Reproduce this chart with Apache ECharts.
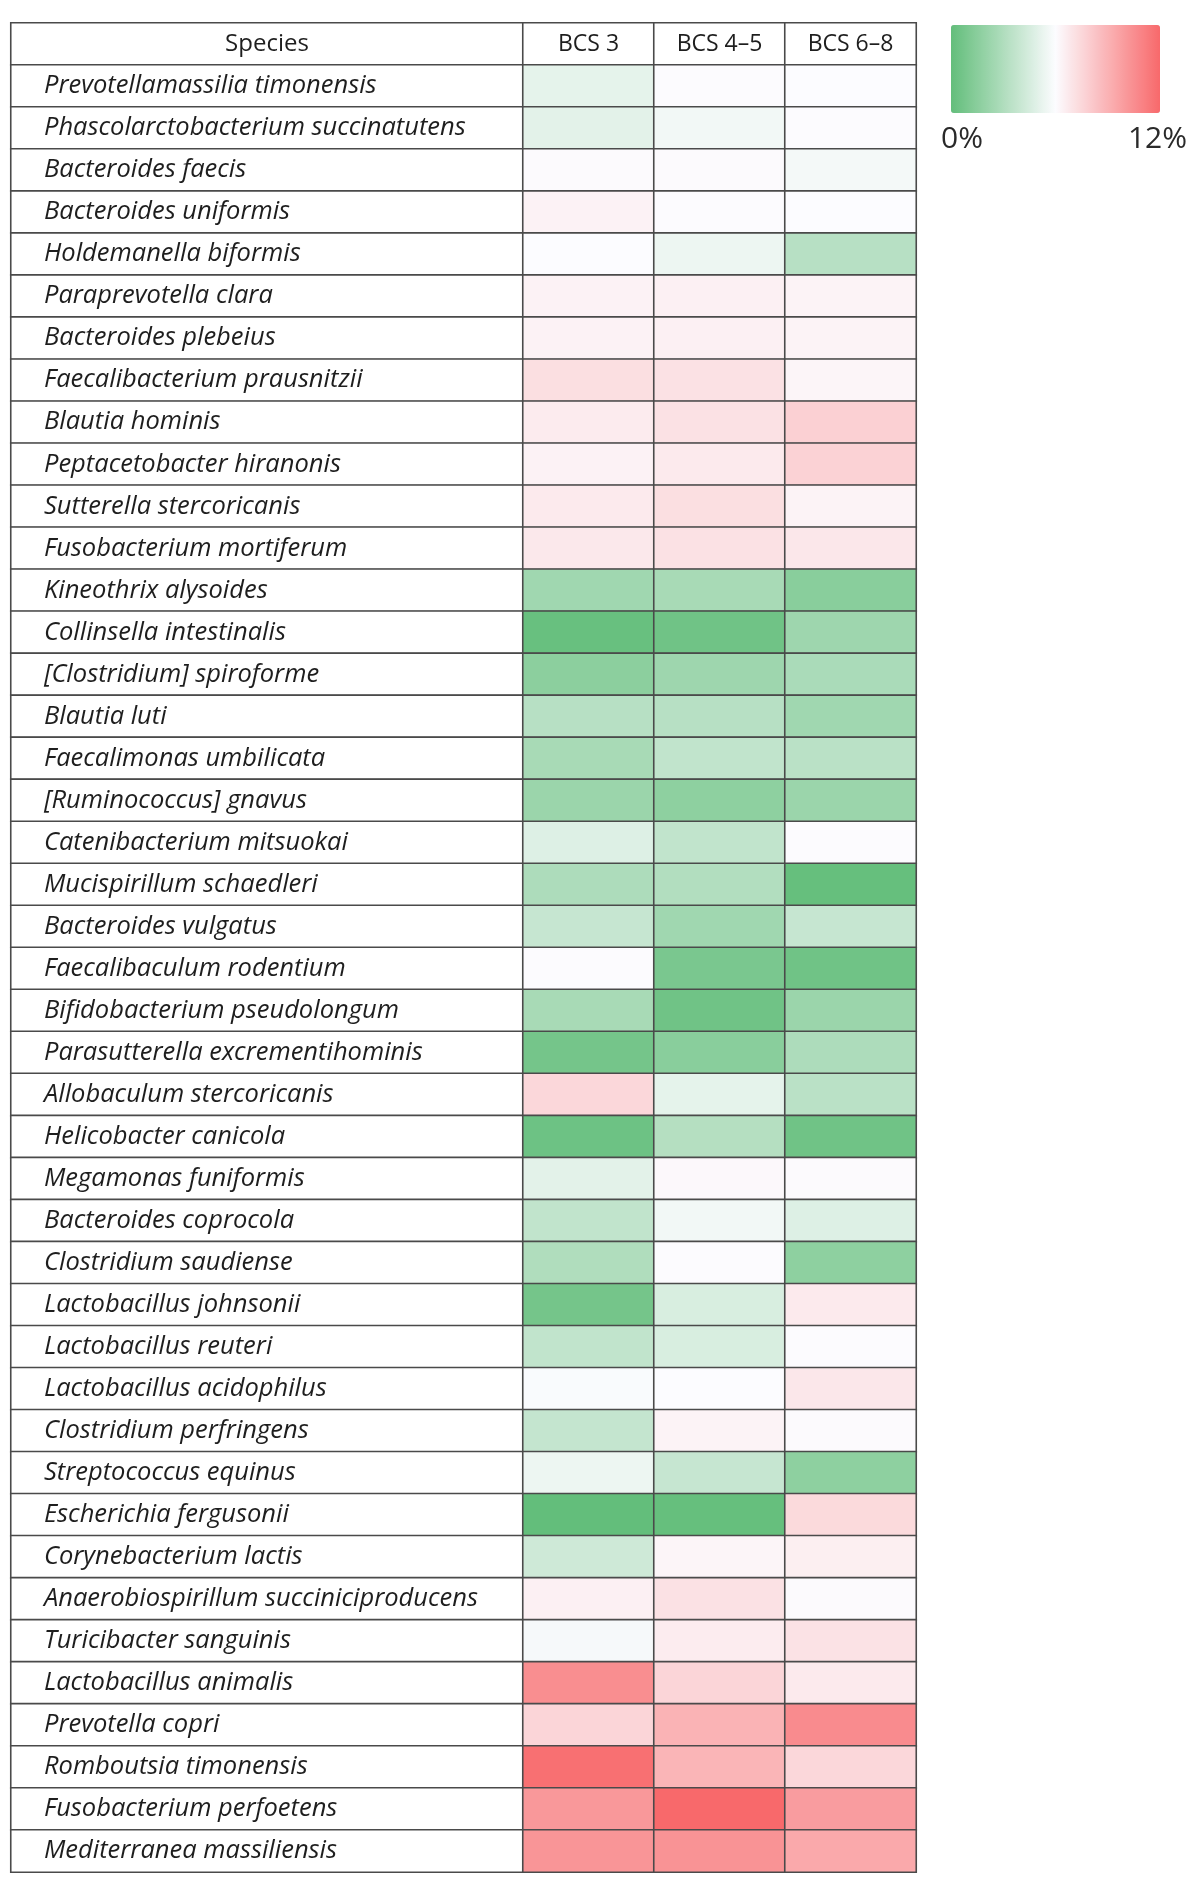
<!DOCTYPE html>
<html>
<head>
<meta charset="utf-8">
<script src="https://cdn.jsdelivr.net/npm/echarts@6/dist/echarts.min.js"></script>
<style>
html,body{margin:0;padding:0;background:#fff;}
#chart{width:1200px;height:1887px;}
</style>
</head>
<body>
<div id="chart"></div>
<script>
// ---- data ----
const headerLabel = 'Species';
const columns = ['BCS 3', 'BCS 4–5', 'BCS 6–8'];
const species = [
  'Prevotellamassilia timonensis',
  'Phascolarctobacterium succinatutens',
  'Bacteroides faecis',
  'Bacteroides uniformis',
  'Holdemanella biformis',
  'Paraprevotella clara',
  'Bacteroides plebeius',
  'Faecalibacterium prausnitzii',
  'Blautia hominis',
  'Peptacetobacter hiranonis',
  'Sutterella stercoricanis',
  'Fusobacterium mortiferum',
  'Kineothrix alysoides',
  'Collinsella intestinalis',
  '[Clostridium] spiroforme',
  'Blautia luti',
  'Faecalimonas umbilicata',
  '[Ruminococcus] gnavus',
  'Catenibacterium mitsuokai',
  'Mucispirillum schaedleri',
  'Bacteroides vulgatus',
  'Faecalibaculum rodentium',
  'Bifidobacterium pseudolongum',
  'Parasutterella excrementihominis',
  'Allobaculum stercoricanis',
  'Helicobacter canicola',
  'Megamonas funiformis',
  'Bacteroides coprocola',
  'Clostridium saudiense',
  'Lactobacillus johnsonii',
  'Lactobacillus reuteri',
  'Lactobacillus acidophilus',
  'Clostridium perfringens',
  'Streptococcus equinus',
  'Escherichia fergusonii',
  'Corynebacterium lactis',
  'Anaerobiospirillum succiniciproducens',
  'Turicibacter sanguinis',
  'Lactobacillus animalis',
  'Prevotella copri',
  'Romboutsia timonensis',
  'Fusobacterium perfoetens',
  'Mediterranea massiliensis'
];
// relative abundance (%), estimated from colour
const bcs3 = [5.1, 5.0, 6.1, 6.4, 6.0, 6.4, 6.4, 7.2, 6.7, 6.4, 6.75, 6.8,
  2.4, 0.2, 1.6, 3.3, 2.7, 2.2, 4.8, 2.9, 3.9, 6.05, 2.7, 0.7, 7.5, 0.4,
  5.0, 3.7, 3.0, 0.7, 3.7, 5.9, 3.8, 5.4, 0.0, 4.2, 6.5, 5.75, 10.5, 7.6,
  11.7, 10.1, 10.2];
const bcs45 = [6.05, 5.6, 6.1, 6.05, 5.4, 6.5, 6.5, 7.1, 7.1, 6.75, 7.2, 7.1,
  2.7, 0.5, 2.3, 3.3, 3.7, 1.7, 3.7, 3.1, 2.4, 0.9, 0.5, 1.5, 5.1, 3.2,
  6.15, 5.6, 6.05, 4.6, 4.6, 6.0, 6.35, 3.9, 0.1, 6.3, 7.1, 6.65, 7.6, 9.0,
  8.9, 12.0, 10.3];
const bcs68 = [6.0, 6.05, 5.7, 6.0, 3.3, 6.35, 6.35, 6.3, 7.8, 7.7, 6.35, 6.85,
  1.5, 2.3, 2.8, 2.4, 3.4, 2.2, 6.05, 0.1, 3.9, 0.5, 2.2, 2.9, 3.4, 0.5,
  6.1, 4.8, 1.7, 6.75, 6.05, 6.85, 6.1, 1.7, 7.4, 6.55, 6.1, 7.05, 6.75, 10.6,
  7.5, 9.9, 9.4];
const scaleMin = 0, scaleMax = 12;
const legendTicks = ['0%', '12%'];

// ---- build ----
const rows = [headerLabel].concat(species);
const seriesValues = [bcs3, bcs45, bcs68];
const cells = [];
seriesValues.forEach((arr, j) => arr.forEach((v, i) => cells.push([j, i + 1, v])));

const FONT = '"Open Sans", "Noto Sans", sans-serif';
const BORDER = '#4a4a4a';
const BW = 1.6;

const speciesCells = rows.map((name, i) => ({
  value: [0, i, 0],
  label: i === 0
    ? { position: 'inside', fontStyle: 'normal', fontSize: 24 }
    : { position: 'insideLeft', distance: 34, fontStyle: 'italic', fontSize: 25.5 }
}));
const headerCells = columns.map((c, j) => ({ value: [j, 0, 0] }));

const chart = echarts.init(document.getElementById('chart'), null, { renderer: 'canvas' });
chart.setOption({
  animation: false,
  backgroundColor: '#fff',
  grid: [
    { left: 11, top: 23, width: 512, height: 1849 },
    { left: 523, top: 23, width: 393, height: 1849 }
  ],
  xAxis: [
    { type: 'category', gridIndex: 0, data: [headerLabel], show: false },
    { type: 'category', gridIndex: 1, data: columns, show: false }
  ],
  yAxis: [
    { type: 'category', gridIndex: 0, data: rows, inverse: true, show: false },
    { type: 'category', gridIndex: 1, data: rows, inverse: true, show: false }
  ],
  visualMap: {
    type: 'continuous',
    seriesIndex: 2,
    min: scaleMin,
    max: scaleMax,
    orient: 'horizontal',
    left: 951,
    top: 25,
    itemWidth: 88,
    itemHeight: 209,
    calculable: false,
    hoverLink: false,
    text: null,
    showLabel: false,
    padding: 0,
    inRange: { color: ['#63BE7B', '#FCFCFF', '#F8696B'] }
  },
  graphic: [
    { type: 'text', left: 941, top: 124, style: { text: legendTicks[0], font: '30px ' + FONT, fill: '#2a2a2a' } },
    { type: 'text', right: 13, top: 124, style: { text: legendTicks[1], font: '30px ' + FONT, fill: '#2a2a2a' } }
  ],
  series: [
    {
      type: 'heatmap', xAxisIndex: 0, yAxisIndex: 0,
      data: speciesCells,
      itemStyle: { color: '#fff', borderColor: BORDER, borderWidth: BW },
      label: {
        show: true, color: '#1e1e1e', fontSize: 25.5, fontFamily: FONT,
        formatter: p => rows[p.data.value[1]]
      },
      emphasis: { disabled: true }, silent: true
    },
    {
      type: 'heatmap', xAxisIndex: 1, yAxisIndex: 1,
      data: headerCells,
      itemStyle: { color: '#fff', borderColor: BORDER, borderWidth: BW },
      label: {
        show: true, color: '#1e1e1e', fontSize: 23, fontFamily: FONT,
        formatter: p => columns[p.data.value[0]]
      },
      emphasis: { disabled: true }, silent: true
    },
    {
      type: 'heatmap', xAxisIndex: 1, yAxisIndex: 1,
      data: cells,
      itemStyle: { borderColor: BORDER, borderWidth: BW },
      label: { show: false },
      emphasis: { disabled: true }, silent: true
    }
  ]
});
</script>
</body>
</html>
